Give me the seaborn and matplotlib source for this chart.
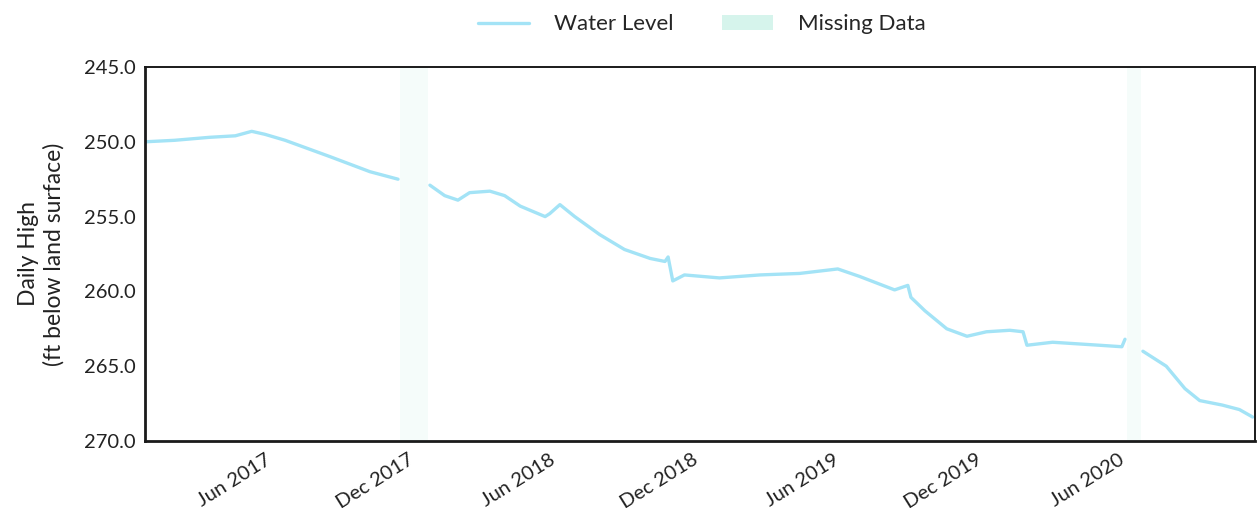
import matplotlib
matplotlib.use("Agg")
import matplotlib.pyplot as plt
import matplotlib.dates as mdates
from matplotlib.lines import Line2D
from matplotlib.patches import Patch
import numpy as np
import pandas as pd
import seaborn as sns

# Daily high water level readings (ft below land surface)
dates = [
    "2016-12-17", "2017-01-24", "2017-03-10", "2017-04-12", "2017-05-03",
    "2017-05-20", "2017-06-15", "2017-08-12", "2017-10-02", "2017-11-07",
    "2017-12-18", "2018-01-06", "2018-01-23", "2018-02-07", "2018-03-05",
    "2018-03-24", "2018-04-13", "2018-05-15", "2018-05-21", "2018-06-03",
    "2018-06-22", "2018-07-24", "2018-08-25", "2018-09-27", "2018-10-16",
    "2018-10-20", "2018-10-26", "2018-11-10", "2018-12-25", "2019-02-15",
    "2019-04-07", "2019-05-26", "2019-06-23", "2019-08-07", "2019-08-24",
    "2019-08-28", "2019-09-15", "2019-10-13", "2019-11-08", "2019-12-03",
    "2020-01-02", "2020-01-19", "2020-01-24", "2020-02-26", "2020-04-26",
    "2020-05-25", "2020-05-29", "2020-06-21", "2020-07-21", "2020-08-14",
    "2020-09-02", "2020-10-01", "2020-10-23", "2020-11-09",
]
levels = [
    250.0, 249.9, 249.7, 249.6, 249.3,
    249.5, 249.9, 251.0, 252.0, 252.5,
    252.9, 253.6, 253.9, 253.4, 253.3,
    253.6, 254.3, 255.0, 254.8, 254.2,
    255.0, 256.2, 257.2, 257.8, 258.0,
    257.7, 259.3, 258.9, 259.1, 258.9,
    258.8, 258.5, 259.0, 259.9, 259.6,
    260.4, 261.3, 262.5, 263.0, 262.7,
    262.6, 262.7, 263.6, 263.4, 263.6,
    263.7, 263.2, 264.0, 265.0, 266.5,
    267.3, 267.6, 267.9, 268.4,
]

# Periods without readings
gap_starts = ["2017-11-10", "2020-05-31"]
gap_ends = ["2017-12-16", "2020-06-19"]

y_ticks = [245, 250, 255, 260, 265, 270]
x_ticks = ["2017-06-01", "2017-12-01", "2018-06-01", "2018-12-01",
           "2019-06-01", "2019-12-01", "2020-06-01"]

line_color = "#a3e3f6"
gap_color = "#e4f8f1"

df = pd.DataFrame({"date": pd.to_datetime(dates), "level": levels})
gs = pd.to_datetime(gap_starts)
ge = pd.to_datetime(gap_ends)
# segment index: number of gaps that end before each reading
df["segment"] = [int(np.sum(ge < d)) for d in df["date"]]

sns.set_theme(style="white")
plt.rcParams["font.family"] = ["Lato", "DejaVu Sans"]

fig = plt.figure(figsize=(12.58, 5.21), dpi=100)
ax = fig.add_axes([0.1153, 0.1536, 0.8823, 0.7178])

for s, e in zip(gs, ge):
    ax.axvspan(s, e, color=gap_color, alpha=0.35, lw=0, zorder=0)

sns.lineplot(data=df, x="date", y="level", units="segment", estimator=None,
             color=line_color, linewidth=2.4, ax=ax, zorder=2)

ax.set_xlim(pd.Timestamp("2016-12-17"), pd.Timestamp("2020-11-12"))
ax.set_ylim(270, 245)
ax.set_yticks(y_ticks)
ax.yaxis.set_major_formatter(matplotlib.ticker.FormatStrFormatter("%.1f"))
ax.set_xticks(pd.to_datetime(x_ticks))
ax.xaxis.set_major_formatter(mdates.DateFormatter("%b %Y"))
plt.setp(ax.get_xticklabels(), rotation=32, ha="right")
ax.tick_params(axis="both", labelsize=14.5, length=0, pad=7, colors="#222222")

ax.set_xlabel("")
ax.set_ylabel("Daily High\n(ft below land surface)", fontsize=16.5,
              color="#222222", labelpad=14)

for side in ["left", "bottom"]:
    ax.spines[side].set_color("#1a1a1a")
    ax.spines[side].set_linewidth(2.0)
for side in ["top", "right"]:
    ax.spines[side].set_color("#1a1a1a")
    ax.spines[side].set_linewidth(1.4)

handles = [
    Line2D([0], [0], color=line_color, lw=2.4),
    Patch(facecolor="#d6f4ec", edgecolor="none"),
]
fig.legend(handles, ["Water Level", "Missing Data"], loc="center",
           bbox_to_anchor=(0.558, 0.953), ncol=2, frameon=False, fontsize=16,
           handlelength=2.3, columnspacing=2.2, handletextpad=1.1)

fig.savefig("out.png", dpi=100)
